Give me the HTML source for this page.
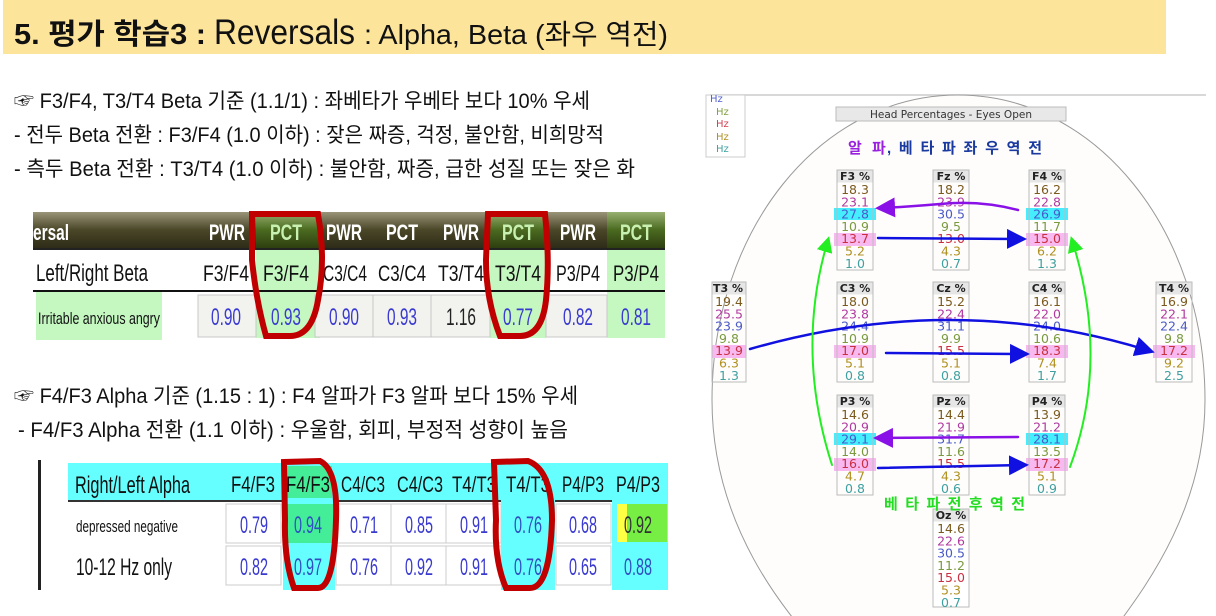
<!DOCTYPE html>
<html><head><meta charset="utf-8"><style>
html,body{margin:0;padding:0;background:#fff;width:1216px;height:616px;overflow:hidden;}
svg{display:block;}
.k{font-family:"Liberation Sans","Noto Sans CJK KR",sans-serif;}
.v{font-family:"DejaVu Sans",sans-serif;font-size:12.5px;text-anchor:middle;}
.h{font-family:"DejaVu Sans",sans-serif;font-size:11px;font-weight:bold;text-anchor:middle;fill:#222;}
.c1{fill:#7a5a1e}.c2{fill:#b03aa0}.c3{fill:#4a5ac8}.c4{fill:#7a9a40}.c5{fill:#c83040}.c6{fill:#b09020}.c7{fill:#40a0a0}
.t1{font-family:"Liberation Sans",sans-serif;font-size:22px;fill:#111;text-anchor:middle;}
.t1v{font-family:"Liberation Sans",sans-serif;font-size:24px;fill:#3a3ad0;text-anchor:middle;}
</style></head><body>
<svg width="1216" height="616" viewBox="0 0 1216 616" xmlns="http://www.w3.org/2000/svg">
<defs>
<marker id="ab" markerWidth="8" markerHeight="8" refX="6" refY="4" orient="auto" markerUnits="strokeWidth"><path d="M0,0 L8,4 L0,8 z" fill="#1010e0"/></marker>
<marker id="ap" markerWidth="8" markerHeight="8" refX="6" refY="4" orient="auto" markerUnits="strokeWidth"><path d="M0,0 L8,4 L0,8 z" fill="#8a10e8"/></marker>
<marker id="ag" markerWidth="8" markerHeight="8" refX="6" refY="4" orient="auto" markerUnits="strokeWidth"><path d="M0,0 L8,4 L0,8 z" fill="#22ee22"/></marker>
<linearGradient id="hg" x1="0" y1="0" x2="0" y2="1"><stop offset="0" stop-color="#9a9478"/><stop offset="0.5" stop-color="#4a4628"/><stop offset="1" stop-color="#2e2c18"/></linearGradient>
<linearGradient id="pg" x1="0" y1="0" x2="0" y2="1"><stop offset="0" stop-color="#98b070"/><stop offset="0.5" stop-color="#4a6a20"/><stop offset="1" stop-color="#2e3e10"/></linearGradient>
</defs>

<!-- header -->
<rect x="3" y="0" width="1163" height="54" fill="#fde49b"/>
<text class="k" x="14" y="44" font-size="29" font-weight="bold" fill="#111" textLength="192" lengthAdjust="spacingAndGlyphs">5. 평가 학습3 :</text>
<text class="k" x="214" y="44" font-size="35" fill="#111" textLength="141" lengthAdjust="spacingAndGlyphs">Reversals</text>
<text class="k" x="364" y="44" font-size="28" fill="#111" textLength="304" lengthAdjust="spacingAndGlyphs">: Alpha, Beta (좌우 역전)</text>

<!-- text lines -->
<text class="k" x="14" y="108" font-size="21" fill="#111" textLength="576" lengthAdjust="spacingAndGlyphs">☞ F3/F4, T3/T4 Beta 기준 (1.1/1) : 좌베타가 우베타 보다 10% 우세</text>
<text class="k" x="14" y="142" font-size="21" fill="#111" textLength="590" lengthAdjust="spacingAndGlyphs">- 전두 Beta 전환 : F3/F4 (1.0 이하) : 잦은 짜증, 걱정, 불안함, 비희망적</text>
<text class="k" x="14" y="176" font-size="21" fill="#111" textLength="621" lengthAdjust="spacingAndGlyphs">- 측두 Beta 전환 : T3/T4 (1.0 이하) :  불안함, 짜증, 급한 성질 또는 잦은 화</text>
<text class="k" x="14" y="403" font-size="21" fill="#111" textLength="564" lengthAdjust="spacingAndGlyphs">☞ F4/F3 Alpha 기준 (1.15 : 1) : F4 알파가 F3 알파 보다 15% 우세</text>
<text class="k" x="18" y="437" font-size="21" fill="#111" textLength="550" lengthAdjust="spacingAndGlyphs">- F4/F3 Alpha 전환 (1.1 이하) : 우울함, 회피, 부정적 성향이 높음</text>

<!-- table 1 -->
<rect x="33" y="212" width="632" height="36" fill="url(#hg)"/>
<rect x="256" y="212" width="64" height="36" fill="url(#pg)"/>
<rect x="490" y="212" width="56" height="36" fill="url(#pg)"/>
<rect x="607" y="212" width="58" height="36" fill="url(#pg)"/>
<line x1="33" y1="249" x2="665" y2="249" stroke="#222" stroke-width="2"/>
<text x="33" y="240" font-family="Liberation Sans" font-weight="bold" font-size="22" fill="#fff" textLength="36" lengthAdjust="spacingAndGlyphs">ersal</text>
<g font-family="Liberation Sans" font-weight="bold" font-size="22" text-anchor="middle">
<text x="227" y="240" fill="#fff" textLength="36" lengthAdjust="spacingAndGlyphs">PWR</text><text x="286" y="240" fill="#c8f0b0" textLength="32" lengthAdjust="spacingAndGlyphs">PCT</text>
<text x="344" y="240" fill="#fff" textLength="36" lengthAdjust="spacingAndGlyphs">PWR</text><text x="402" y="240" fill="#fff" textLength="32" lengthAdjust="spacingAndGlyphs">PCT</text>
<text x="461" y="240" fill="#fff" textLength="36" lengthAdjust="spacingAndGlyphs">PWR</text><text x="518" y="240" fill="#c8f0b0" textLength="32" lengthAdjust="spacingAndGlyphs">PCT</text>
<text x="578" y="240" fill="#fff" textLength="36" lengthAdjust="spacingAndGlyphs">PWR</text><text x="636" y="240" fill="#c8f0b0" textLength="32" lengthAdjust="spacingAndGlyphs">PCT</text>
</g>
<rect x="256" y="250" width="64" height="88" fill="#c4f8c0"/>
<rect x="490" y="250" width="56" height="88" fill="#c4f8c0"/>
<rect x="607" y="250" width="58" height="88" fill="#c4f8c0"/>
<text x="36" y="281" font-family="Liberation Sans" font-size="24" fill="#111" textLength="112" lengthAdjust="spacingAndGlyphs">Left/Right Beta</text>
<g>
<text class="t1" x="226" y="281" textLength="46" lengthAdjust="spacingAndGlyphs">F3/F4</text>
<text class="t1" x="286" y="281" textLength="46" lengthAdjust="spacingAndGlyphs">F3/F4</text>
<text class="t1" x="345" y="281" textLength="44" lengthAdjust="spacingAndGlyphs">C3/C4</text>
<text class="t1" x="402" y="281" textLength="48" lengthAdjust="spacingAndGlyphs">C3/C4</text>
<text class="t1" x="461" y="281" textLength="46" lengthAdjust="spacingAndGlyphs">T3/T4</text>
<text class="t1" x="518" y="281" textLength="46" lengthAdjust="spacingAndGlyphs">T3/T4</text>
<text class="t1" x="578" y="281" textLength="44" lengthAdjust="spacingAndGlyphs">P3/P4</text>
<text class="t1" x="636" y="281" textLength="46" lengthAdjust="spacingAndGlyphs">P3/P4</text>
</g>
<line x1="33" y1="291" x2="665" y2="291" stroke="#111" stroke-width="2"/>
<rect x="36" y="292" width="126" height="48" fill="#c4f8c0"/>
<text x="38" y="324" font-family="Liberation Sans" font-size="17" fill="#111" textLength="122" lengthAdjust="spacingAndGlyphs">Irritable anxious angry</text>
<g fill="#f2f2ee" stroke="#c8c8c8">
<rect x="198" y="295" width="58" height="42"/><rect x="315" y="295" width="58" height="42"/><rect x="373" y="295" width="58" height="42"/><rect x="431" y="295" width="59" height="42"/><rect x="546" y="295" width="61" height="42"/>
</g>
<g>
<text class="t1v" x="226" y="325" textLength="30" lengthAdjust="spacingAndGlyphs">0.90</text><text class="t1v" x="286" y="325" textLength="30" lengthAdjust="spacingAndGlyphs">0.93</text>
<text class="t1v" x="344" y="325" textLength="30" lengthAdjust="spacingAndGlyphs">0.90</text><text class="t1v" x="402" y="325" textLength="30" lengthAdjust="spacingAndGlyphs">0.93</text>
<text class="t1v" x="461" y="325" style="fill:#222" textLength="30" lengthAdjust="spacingAndGlyphs">1.16</text><text class="t1v" x="518" y="325" textLength="30" lengthAdjust="spacingAndGlyphs">0.77</text>
<text class="t1v" x="578" y="325" textLength="30" lengthAdjust="spacingAndGlyphs">0.82</text><text class="t1v" x="636" y="325" textLength="30" lengthAdjust="spacingAndGlyphs">0.81</text>
</g>
<path d="M252,214 L318,214 Q326,260 318,300 Q312,336 290,336 L266,336 Q256,300 252,260 Z" fill="none" stroke="#c00000" stroke-width="6"/>
<path d="M488,214 L545,214 Q550,262 546,300 Q542,336 520,336 L500,336 Q486,300 486,260 Z" fill="none" stroke="#c00000" stroke-width="6"/>

<!-- table 2 -->
<rect x="38" y="460" width="3" height="130" fill="#222"/>
<rect x="68" y="463" width="600" height="37" fill="#66ffff"/>
<rect x="286" y="466" width="46" height="32" fill="#44ee99"/>
<line x1="68" y1="501" x2="668" y2="501" stroke="#333" stroke-width="2"/>
<text x="75" y="493" font-family="Liberation Sans" font-size="24" fill="#111" textLength="115" lengthAdjust="spacingAndGlyphs">Right/Left Alpha</text>
<g>
<text class="t1" x="253" y="492" textLength="44" lengthAdjust="spacingAndGlyphs">F4/F3</text>
<text class="t1" x="308" y="492" textLength="44" lengthAdjust="spacingAndGlyphs">F4/F3</text>
<text class="t1" x="363" y="492" textLength="44" lengthAdjust="spacingAndGlyphs">C4/C3</text>
<text class="t1" x="420" y="492" textLength="46" lengthAdjust="spacingAndGlyphs">C4/C3</text>
<text class="t1" x="474" y="492" textLength="44" lengthAdjust="spacingAndGlyphs">T4/T3</text>
<text class="t1" x="528" y="492" textLength="44" lengthAdjust="spacingAndGlyphs">T4/T3</text>
<text class="t1" x="583" y="492" textLength="42" lengthAdjust="spacingAndGlyphs">P4/P3</text>
<text class="t1" x="638" y="492" textLength="44" lengthAdjust="spacingAndGlyphs">P4/P3</text>
</g>
<g fill="#fff" stroke="#ccc">
<rect x="226" y="504" width="55" height="39"/><rect x="336" y="504" width="55" height="39"/><rect x="391" y="504" width="55" height="39"/><rect x="446" y="504" width="55" height="39"/><rect x="556" y="504" width="55" height="39"/>
<rect x="226" y="546" width="55" height="39"/><rect x="336" y="546" width="55" height="39"/><rect x="391" y="546" width="55" height="39"/><rect x="446" y="546" width="55" height="39"/><rect x="556" y="546" width="55" height="39"/>
</g>
<rect x="283" y="500" width="52" height="90" fill="#66ffff"/>
<rect x="286" y="504" width="48" height="39" fill="#44ee99"/>
<rect x="501" y="500" width="54" height="90" fill="#66ffff"/>
<rect x="612" y="500" width="56" height="90" fill="#66ffff"/>
<rect x="617" y="504" width="10" height="38" fill="#ffff44"/>
<rect x="627" y="504" width="40" height="38" fill="#77ee44"/>
<text x="76" y="532" font-family="Liberation Sans" font-size="17" fill="#111" textLength="102" lengthAdjust="spacingAndGlyphs">depressed negative</text>
<text x="76" y="575" font-family="Liberation Sans" font-size="24" fill="#111" textLength="96" lengthAdjust="spacingAndGlyphs">10-12 Hz only</text>
<g>
<text class="t1v" x="254" y="533" textLength="28" lengthAdjust="spacingAndGlyphs">0.79</text><text class="t1v" x="308" y="533" style="fill:#3050c0" textLength="28" lengthAdjust="spacingAndGlyphs">0.94</text><text class="t1v" x="364" y="533" textLength="28" lengthAdjust="spacingAndGlyphs">0.71</text><text class="t1v" x="419" y="533" textLength="28" lengthAdjust="spacingAndGlyphs">0.85</text><text class="t1v" x="474" y="533" textLength="28" lengthAdjust="spacingAndGlyphs">0.91</text><text class="t1v" x="528" y="533" style="fill:#3050c0" textLength="28" lengthAdjust="spacingAndGlyphs">0.76</text><text class="t1v" x="583" y="533" textLength="28" lengthAdjust="spacingAndGlyphs">0.68</text><text class="t1v" x="638" y="533" style="fill:#333" textLength="28" lengthAdjust="spacingAndGlyphs">0.92</text>
<text class="t1v" x="254" y="575" textLength="28" lengthAdjust="spacingAndGlyphs">0.82</text><text class="t1v" x="308" y="575" style="fill:#3050c0" textLength="28" lengthAdjust="spacingAndGlyphs">0.97</text><text class="t1v" x="364" y="575" textLength="28" lengthAdjust="spacingAndGlyphs">0.76</text><text class="t1v" x="419" y="575" textLength="28" lengthAdjust="spacingAndGlyphs">0.92</text><text class="t1v" x="474" y="575" textLength="28" lengthAdjust="spacingAndGlyphs">0.91</text><text class="t1v" x="528" y="575" style="fill:#3050c0" textLength="28" lengthAdjust="spacingAndGlyphs">0.76</text><text class="t1v" x="583" y="575" textLength="28" lengthAdjust="spacingAndGlyphs">0.65</text><text class="t1v" x="638" y="575" style="fill:#3050c0" textLength="28" lengthAdjust="spacingAndGlyphs">0.88</text>
</g>
<path d="M284,462 L320,461 Q338,470 336,520 Q334,588 318,588 L294,588 Q284,560 285,520 Z" fill="none" stroke="#c00000" stroke-width="6"/>
<path d="M494,462 L528,461 Q552,470 552,520 Q550,588 530,588 L506,588 Q494,560 496,520 Z" fill="none" stroke="#c00000" stroke-width="6"/>

<!-- right panel -->
<line x1="710" y1="95" x2="1206" y2="95" stroke="#ccc" stroke-width="1.5"/>
<path d="M712,400 C712,230 820,95 958,95 C1096,95 1205,230 1205,400 C1205,530 1120,616 1100,650 L820,650 C790,616 712,530 712,400 Z" fill="#fefdfb" stroke="#999" stroke-width="1"/>
<rect x="706" y="95" width="39" height="62" fill="#fff" stroke="#ccc"/>
<g font-family="DejaVu Sans" font-size="10">
<text x="710" y="102" fill="#5060d0">Hz</text><text x="716" y="115" fill="#80a040">Hz</text><text x="716" y="127" fill="#d04050">Hz</text><text x="716" y="140" fill="#b09020">Hz</text><text x="716" y="152" fill="#40a0a0">Hz</text>
</g>
<rect x="836" y="107" width="230" height="14" fill="#e8e8e8" stroke="#bbb"/>
<text x="951" y="118" font-family="DejaVu Sans" font-size="10.5" fill="#333" text-anchor="middle">Head Percentages - Eyes Open</text>
<text x="848" y="153" font-family="Liberation Sans,Noto Sans CJK KR,sans-serif" font-size="15" font-weight="bold" fill="#9a20e0" letter-spacing="3">알 파</text>
<text x="887" y="153" font-family="Liberation Sans,Noto Sans CJK KR,sans-serif" font-size="15" font-weight="bold" fill="#1a3aa0" letter-spacing="3" textLength="158" lengthAdjust="spacing">, 베 타 파  좌 우  역 전</text>

<!-- boxes -->
<g transform="translate(837,170)"><rect x="-3" y="38" width="42" height="12" fill="#44eeff"/><rect x="-3" y="63" width="42" height="13" fill="#f8b8f0"/><rect width="36" height="100" fill="none" stroke="#bbb"/><rect x="0.5" y="0.5" width="35" height="12" fill="#e6e6e6"/><text class="h" x="18" y="10">F3 %</text><text class="v c1" x="18" y="24">18.3</text><text class="v c2" x="18" y="36.3">23.1</text><text class="v c3" x="18" y="48.6">27.8</text><text class="v c4" x="18" y="60.9">10.9</text><text class="v c5" x="18" y="73.2">13.7</text><text class="v c6" x="18" y="85.5">5.2</text><text class="v c7" x="18" y="97.8">1.0</text></g>
<g transform="translate(933,170)"><rect width="36" height="100" fill="none" stroke="#bbb"/><rect x="0.5" y="0.5" width="35" height="12" fill="#e6e6e6"/><text class="h" x="18" y="10">Fz %</text><text class="v c1" x="18" y="24">18.2</text><text class="v c2" x="18" y="36.3">23.9</text><text class="v c3" x="18" y="48.6">30.5</text><text class="v c4" x="18" y="60.9">9.5</text><text class="v c5" x="18" y="73.2">13.0</text><text class="v c6" x="18" y="85.5">4.3</text><text class="v c7" x="18" y="97.8">0.7</text></g>
<g transform="translate(1029,170)"><rect x="-3" y="38" width="42" height="12" fill="#44eeff"/><rect x="-3" y="63" width="42" height="13" fill="#f8b8f0"/><rect width="36" height="100" fill="none" stroke="#bbb"/><rect x="0.5" y="0.5" width="35" height="12" fill="#e6e6e6"/><text class="h" x="18" y="10">F4 %</text><text class="v c1" x="18" y="24">16.2</text><text class="v c2" x="18" y="36.3">22.8</text><text class="v c3" x="18" y="48.6">26.9</text><text class="v c4" x="18" y="60.9">11.7</text><text class="v c5" x="18" y="73.2">15.0</text><text class="v c6" x="18" y="85.5">6.2</text><text class="v c7" x="18" y="97.8">1.3</text></g>

<g transform="translate(712,282)"><rect x="0" y="63" width="34" height="13" fill="#f8b8f0"/><rect width="34" height="100" fill="none" stroke="#bbb"/><rect x="0.5" y="0.5" width="33" height="12" fill="#e6e6e6"/><text class="h" x="16" y="10">T3 %</text><text class="v c1" x="17" y="24">19.4</text><text class="v c2" x="17" y="36.3">25.5</text><text class="v c3" x="17" y="48.6">23.9</text><text class="v c4" x="17" y="60.9">9.8</text><text class="v c5" x="17" y="73.2">13.9</text><text class="v c6" x="17" y="85.5">6.3</text><text class="v c7" x="17" y="97.8">1.3</text></g>
<g transform="translate(837,282)"><rect x="-3" y="63" width="42" height="13" fill="#f8b8f0"/><rect width="36" height="100" fill="none" stroke="#bbb"/><rect x="0.5" y="0.5" width="35" height="12" fill="#e6e6e6"/><text class="h" x="18" y="10">C3 %</text><text class="v c1" x="18" y="24">18.0</text><text class="v c2" x="18" y="36.3">23.8</text><text class="v c3" x="18" y="48.6">24.4</text><text class="v c4" x="18" y="60.9">10.9</text><text class="v c5" x="18" y="73.2">17.0</text><text class="v c6" x="18" y="85.5">5.1</text><text class="v c7" x="18" y="97.8">0.8</text></g>
<g transform="translate(933,282)"><rect width="36" height="100" fill="none" stroke="#bbb"/><rect x="0.5" y="0.5" width="35" height="12" fill="#e6e6e6"/><text class="h" x="18" y="10">Cz %</text><text class="v c1" x="18" y="24">15.2</text><text class="v c2" x="18" y="36.3">22.4</text><text class="v c3" x="18" y="48.6">31.1</text><text class="v c4" x="18" y="60.9">9.9</text><text class="v c5" x="18" y="73.2">15.5</text><text class="v c6" x="18" y="85.5">5.1</text><text class="v c7" x="18" y="97.8">0.8</text></g>
<g transform="translate(1029,282)"><rect x="-3" y="63" width="42" height="13" fill="#f8b8f0"/><rect width="36" height="100" fill="none" stroke="#bbb"/><rect x="0.5" y="0.5" width="35" height="12" fill="#e6e6e6"/><text class="h" x="18" y="10">C4 %</text><text class="v c1" x="18" y="24">16.1</text><text class="v c2" x="18" y="36.3">22.0</text><text class="v c3" x="18" y="48.6">24.0</text><text class="v c4" x="18" y="60.9">10.6</text><text class="v c5" x="18" y="73.2">18.3</text><text class="v c6" x="18" y="85.5">7.4</text><text class="v c7" x="18" y="97.8">1.7</text></g>
<g transform="translate(1156,282)"><rect x="-3" y="63" width="42" height="13" fill="#f8b8f0"/><rect width="36" height="100" fill="none" stroke="#bbb"/><rect x="0.5" y="0.5" width="35" height="12" fill="#e6e6e6"/><text class="h" x="18" y="10">T4 %</text><text class="v c1" x="18" y="24">16.9</text><text class="v c2" x="18" y="36.3">22.1</text><text class="v c3" x="18" y="48.6">22.4</text><text class="v c4" x="18" y="60.9">9.8</text><text class="v c5" x="18" y="73.2">17.2</text><text class="v c6" x="18" y="85.5">9.2</text><text class="v c7" x="18" y="97.8">2.5</text></g>

<g transform="translate(837,395)"><rect x="-3" y="38" width="42" height="12" fill="#44eeff"/><rect x="-3" y="63" width="42" height="13" fill="#f8b8f0"/><rect width="36" height="100" fill="none" stroke="#bbb"/><rect x="0.5" y="0.5" width="35" height="12" fill="#e6e6e6"/><text class="h" x="18" y="10">P3 %</text><text class="v c1" x="18" y="24">14.6</text><text class="v c2" x="18" y="36.3">20.9</text><text class="v c3" x="18" y="48.6">29.1</text><text class="v c4" x="18" y="60.9">14.0</text><text class="v c5" x="18" y="73.2">16.0</text><text class="v c6" x="18" y="85.5">4.7</text><text class="v c7" x="18" y="97.8">0.8</text></g>
<g transform="translate(933,395)"><rect width="36" height="100" fill="none" stroke="#bbb"/><rect x="0.5" y="0.5" width="35" height="12" fill="#e6e6e6"/><text class="h" x="18" y="10">Pz %</text><text class="v c1" x="18" y="24">14.4</text><text class="v c2" x="18" y="36.3">21.9</text><text class="v c3" x="18" y="48.6">31.7</text><text class="v c4" x="18" y="60.9">11.6</text><text class="v c5" x="18" y="73.2">15.5</text><text class="v c6" x="18" y="85.5">4.3</text><text class="v c7" x="18" y="97.8">0.6</text></g>
<g transform="translate(1029,395)"><rect x="-3" y="38" width="42" height="12" fill="#44eeff"/><rect x="-3" y="63" width="42" height="13" fill="#f8b8f0"/><rect width="36" height="100" fill="none" stroke="#bbb"/><rect x="0.5" y="0.5" width="35" height="12" fill="#e6e6e6"/><text class="h" x="18" y="10">P4 %</text><text class="v c1" x="18" y="24">13.9</text><text class="v c2" x="18" y="36.3">21.2</text><text class="v c3" x="18" y="48.6">28.1</text><text class="v c4" x="18" y="60.9">13.5</text><text class="v c5" x="18" y="73.2">17.2</text><text class="v c6" x="18" y="85.5">5.1</text><text class="v c7" x="18" y="97.8">0.9</text></g>

<g transform="translate(933,509)"><rect width="36" height="98" fill="#fff" stroke="#bbb"/><rect x="0.5" y="0.5" width="35" height="12" fill="#e6e6e6"/><text class="h" x="18" y="10">Oz %</text><text class="v c1" x="18" y="24">14.6</text><text class="v c2" x="18" y="36.3">22.6</text><text class="v c3" x="18" y="48.6">30.5</text><text class="v c4" x="18" y="60.9">11.2</text><text class="v c5" x="18" y="73.2">15.0</text><text class="v c6" x="18" y="85.5">5.3</text><text class="v c7" x="18" y="97.8">0.7</text></g>

<text x="884" y="509" font-family="Liberation Sans,Noto Sans CJK KR,sans-serif" font-size="15" font-weight="bold" fill="#22dd22" letter-spacing="3" textLength="144" lengthAdjust="spacing">베 타 파  전 후  역 전</text>

<!-- arrows -->
<g fill="none" stroke-linecap="round">
<path d="M1018,210 Q980,200 940,204 Q905,207 880,208" stroke="#8a10e8" stroke-width="2.5" marker-end="url(#ap)"/>
<path d="M878,238 L1022,239" stroke="#1010e0" stroke-width="2.5" marker-end="url(#ab)"/>
<path d="M750,349 Q955,290 1150,351" stroke="#1010e0" stroke-width="2.5" marker-end="url(#ab)"/>
<path d="M886,353 L1025,354" stroke="#1010e0" stroke-width="2.5" marker-end="url(#ab)"/>
<path d="M1018,437 L878,438" stroke="#8a10e8" stroke-width="2.5" marker-end="url(#ap)"/>
<path d="M878,468 L1024,465" stroke="#1010e0" stroke-width="2.5" marker-end="url(#ab)"/>
<path d="M832,465 Q795,350 828,240" stroke="#22ee22" stroke-width="2" marker-end="url(#ag)"/>
<path d="M1070,467 Q1110,360 1072,240" stroke="#22ee22" stroke-width="2" marker-end="url(#ag)"/>
</g>
</svg>
</body></html>
